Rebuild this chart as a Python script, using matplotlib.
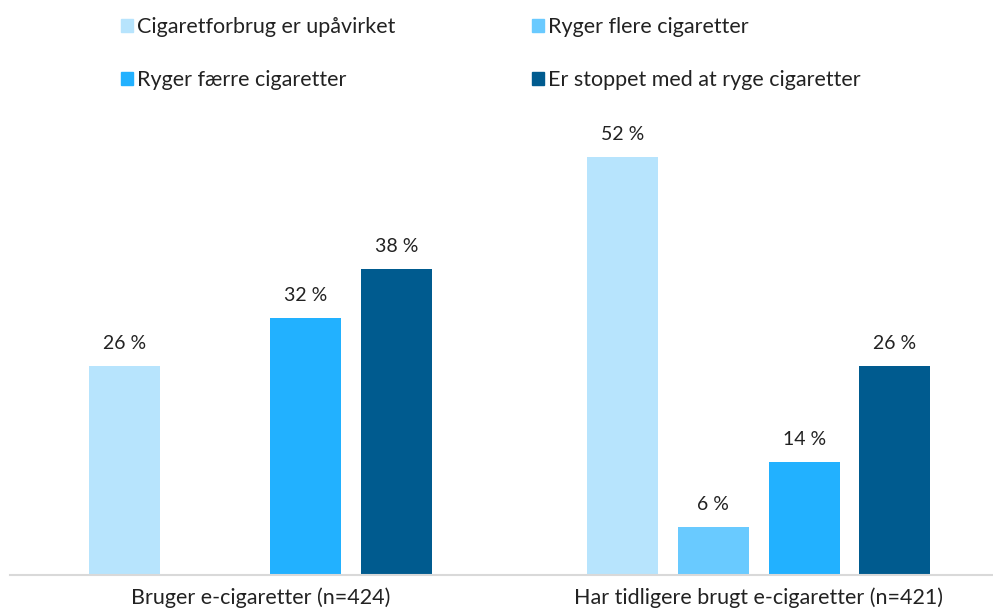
import matplotlib
matplotlib.use("Agg")
import matplotlib.pyplot as plt
import numpy as np
from matplotlib.patches import Patch

plt.rcParams['font.family'] = ['Lato', 'DejaVu Sans']

categories = ["Bruger e-cigaretter (n=424)", "Har tidligere brugt e-cigaretter (n=421)"]
series_names = ["Cigaretforbrug er upåvirket", "Ryger flere cigaretter",
                "Ryger færre cigaretter", "Er stoppet med at ryge cigaretter"]
values = [
    [26, 52],
    [np.nan, 6],
    [32, 14],
    [38, 26],
]
colors = ["#B7E4FD", "#69CAFF", "#22B1FF", "#005B8F"]

fig = plt.figure(figsize=(9.93, 6.11), dpi=100)
ax = fig.add_axes([10/993, 1 - 575/611, 1 - 10/993, (575 - 92.6)/611])

x = np.arange(len(categories))
slot = 0.182
width = 0.1426
handles = []
for i, (name, vals, c) in enumerate(zip(series_names, values, colors)):
    pos = x + (i - 1.5) * slot
    ax.bar(pos, vals, width=width, color=c, label=name)
    handles.append(Patch(color=c, label=name))
    for p, v in zip(pos, vals):
        if not np.isnan(v):
            ax.text(p, v + 1.75, f"{v:.0f} %", ha='center', va='bottom',
                    fontsize=14, color='#222222')

ax.set_xlim(-0.502, 1.47)
ax.set_ylim(0, 60)
ax.set_yticks([])
ax.set_xticks(x)
ax.set_xticklabels(categories, fontsize=15.5, color='#222222')
ax.tick_params(axis='x', length=0, pad=9)
for s in ['top', 'right', 'left']:
    ax.spines[s].set_visible(False)
ax.spines['bottom'].set_color('#D9D9D9')
ax.spines['bottom'].set_linewidth(1.5)

order = [0, 2, 1, 3]
leg = fig.legend([handles[k] for k in order], [series_names[k] for k in order],
                 ncol=2, loc='upper left', bbox_to_anchor=(121/993, 1 - 17/611),
                 frameon=False, fontsize=15.5, handlelength=0.55, handleheight=0.55,
                 handletextpad=0.2, columnspacing=6.35, labelspacing=1.55,
                 borderaxespad=0, borderpad=0)
for t in leg.get_texts():
    t.set_color('#222222')

fig.savefig("out.png", dpi=100)
